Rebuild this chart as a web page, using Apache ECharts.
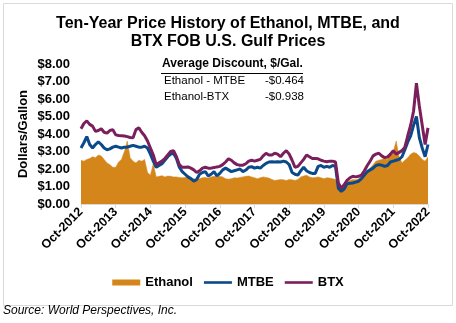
<!DOCTYPE html>
<html>
<head>
<meta charset="utf-8">
<script src="https://cdn.jsdelivr.net/npm/echarts@6/dist/echarts.min.js"></script>
<style>html,body{margin:0;padding:0;background:#fff}#c{width:456px;height:323px}</style>
</head>
<body>
<div id="c"></div>
<script>
// Monthly observations, Oct-2012 .. Oct-2022
var tickLabels = ['Oct-2012','Oct-2013','Oct-2014','Oct-2015','Oct-2016','Oct-2017','Oct-2018','Oct-2019','Oct-2020','Oct-2021','Oct-2022'];
var monthNames = ['Oct','Nov','Dec','Jan','Feb','Mar','Apr','May','Jun','Jul','Aug','Sep'];
var ethanol = [
 2.50,2.45,2.55,2.60,2.70,2.65,2.80,2.75,2.55,2.35,2.25,2.10,
 2.10,2.40,2.55,3.00,3.60,2.65,2.45,2.35,2.50,2.45,2.55,1.80,
 1.65,2.30,1.55,1.58,1.62,1.55,1.60,1.58,1.55,1.55,1.52,1.50,
 1.52,1.55,1.50,1.45,1.40,1.45,1.50,1.52,1.48,1.55,1.58,1.55,
 1.58,1.55,1.45,1.42,1.45,1.50,1.48,1.52,1.55,1.58,1.60,1.55,
 1.50,1.45,1.50,1.55,1.52,1.48,1.40,1.35,1.37,1.40,1.38,1.35,
 1.40,1.38,1.35,1.40,1.55,1.60,1.65,1.55,1.50,1.52,1.55,1.50,
 1.45,1.50,1.48,1.45,1.40,1.10,0.80,1.05,1.25,1.35,1.40,1.38,
 1.45,1.55,1.65,1.85,2.05,2.25,2.45,2.50,2.55,2.60,2.55,2.85,
 3.00,3.60,2.70,2.35,2.50,2.65,2.85,2.95,2.90,2.75,2.55,2.45,
 2.70];
var mtbe = [
 3.20,3.50,3.85,3.40,3.20,3.40,3.55,3.40,3.20,3.10,3.15,3.25,
 3.30,3.25,3.20,3.25,3.25,3.30,3.35,3.30,3.25,3.25,3.30,3.20,
 2.85,2.45,2.10,2.20,2.30,2.50,2.70,2.85,2.90,2.60,2.10,1.85,
 1.70,1.55,1.45,1.30,1.40,1.70,1.80,1.85,1.60,1.70,1.85,1.60,
 1.75,1.95,2.05,1.95,1.85,1.90,1.95,2.00,1.85,1.94,2.10,2.13,
 2.05,2.10,2.05,2.20,2.32,2.40,2.42,2.40,2.42,2.40,2.45,2.40,
 2.25,1.80,1.70,1.65,1.90,2.10,1.90,1.80,1.75,1.75,2.15,2.20,
 2.10,2.15,2.10,2.20,2.15,0.90,0.72,0.85,1.15,1.18,1.20,1.25,
 1.30,1.45,1.65,1.85,1.95,2.05,2.20,2.25,2.22,2.15,2.20,2.40,
 2.45,2.50,2.55,2.70,3.10,3.55,3.90,4.50,5.00,3.80,3.20,2.70,
 3.40];
var btx = [
 4.30,4.60,4.75,4.55,4.45,4.15,4.20,4.30,4.10,4.05,4.20,4.25,
 3.95,3.92,3.90,3.88,3.85,3.80,3.78,4.25,4.35,4.10,3.90,3.60,
 3.20,2.80,2.25,2.35,2.45,2.60,2.80,3.00,3.05,2.70,2.25,2.10,
 2.10,2.12,2.05,1.95,1.80,1.90,2.05,2.10,2.05,2.05,2.08,2.12,
 2.15,2.25,2.40,2.58,2.50,2.35,2.25,2.22,2.22,2.30,2.45,2.50,
 2.45,2.50,2.55,2.75,2.90,2.80,2.80,2.90,2.85,2.70,2.90,3.05,
 2.85,2.50,2.10,2.15,2.35,2.55,2.80,2.70,2.60,2.60,2.58,2.50,
 2.45,2.42,2.45,2.45,2.40,1.20,0.90,1.10,1.35,1.50,1.58,1.55,
 1.58,1.65,1.90,2.20,2.45,2.75,2.85,2.90,2.75,2.65,2.68,2.85,
 3.05,2.85,2.95,3.05,3.25,3.90,4.50,5.30,6.90,5.60,4.50,3.40,
 4.35];
var discountRows = [['Ethanol - MTBE','-$0.464'],['Ethanol-BTX','-$0.938']];

var categories = [];
for (var i = 0; i < ethanol.length; i++) {
  categories.push(monthNames[i % 12] + '-' + (2012 + Math.floor((i + 9) / 12)));
}

var C_ETH = '#D4861B', C_MTBE = '#0B4A8A', C_BTX = '#7A1F5C';
var LINE_ICON = 'path://M0,0 M0,1.7 L28,1.7 L28,4.3 L0,4.3 Z M28,6';
var chart = echarts.init(document.getElementById('c'));
var tableFont = '"Liberation Sans", Arial, sans-serif';
chart.setOption({
  animation: false,
  backgroundColor: '#fff',
  title: {
    text: 'Ten-Year Price History of Ethanol, MTBE, and\nBTX FOB U.S. Gulf Prices',
    left: 'center', top: 10,
    textStyle: {fontFamily: 'Arial, "Liberation Sans"', fontSize: 16, fontWeight: 'bold', color: '#000', lineHeight: 18}
  },
  grid: {left: 81, top: 64, width: 347, height: 140, containLabel: false},
  xAxis: {
    type: 'category', data: categories, boundaryGap: false,
    axisLine: {lineStyle: {color: '#D9D9D9', width: 1}},
    axisTick: {show: true, interval: 11, length: 4, lineStyle: {color: '#D9D9D9'}},
    axisLabel: {
      interval: 11, rotate: 45, margin: 6,
      fontFamily: 'Arial, "Liberation Sans"', fontSize: 12.5, fontWeight: 'bold', color: '#000',
      formatter: function (v, idx) { return tickLabels[idx / 12]; }
    },
    splitLine: {show: false}
  },
  yAxis: {
    type: 'value', min: 0, max: 8, interval: 1,
    name: 'Dollars/Gallon', nameLocation: 'middle', nameRotate: 90, nameGap: 51,
    nameMoveOverlap: false,
    nameTextStyle: {fontFamily: 'Arial, "Liberation Sans"', fontSize: 13, fontWeight: 'bold', color: '#000'},
    axisLine: {show: false}, axisTick: {show: false}, splitLine: {show: false},
    axisLabel: {
      margin: 11, fontFamily: 'Arial, "Liberation Sans"', fontSize: 13, fontWeight: 'bold', color: '#000',
      formatter: function (v) { return '$' + v.toFixed(2); }
    }
  },
  legend: {
    top: 276, left: 'center', itemWidth: 28, itemHeight: 6, itemGap: 11, padding: 0,
    textStyle: {fontFamily: 'Arial, "Liberation Sans"', fontSize: 13, fontWeight: 'bold', color: '#000'},
    data: [{name: 'Ethanol', icon: 'rect'}, {name: 'MTBE', icon: LINE_ICON}, {name: 'BTX', icon: LINE_ICON}]
  },
  series: [
    {name: 'Ethanol', type: 'line', data: ethanol, symbol: 'none', color: C_ETH,
     lineStyle: {width: 0.5, color: C_ETH}, areaStyle: {color: C_ETH, opacity: 1}},
    {name: 'MTBE', type: 'line', data: mtbe, symbol: 'none', color: C_MTBE,
     lineStyle: {width: 3, color: C_MTBE}},
    {name: 'BTX', type: 'line', data: btx, symbol: 'none', color: C_BTX,
     lineStyle: {width: 3, color: C_BTX}}
  ],
  graphic: [
    {type: 'rect', left: 1, top: 1, shape: {width: 449, height: 302}, style: {fill: 'none', stroke: '#D9D9D9', lineWidth: 1}, z: -1},
    {type: 'text', left: 162, top: 58, style: {text: 'Average Discount, $/Gal.', font: 'bold 12px ' + tableFont, fill: '#000'}},
    {type: 'line', shape: {x1: 161, y1: 73.5, x2: 303, y2: 73.5}, style: {stroke: '#000', lineWidth: 1}},
    {type: 'text', left: 164, top: 75, style: {text: discountRows[0][0], font: '11.5px ' + tableFont, fill: '#000'}},
    {type: 'text', left: 265, top: 75, style: {text: discountRows[0][1], font: '11.5px ' + tableFont, fill: '#000'}},
    {type: 'text', left: 164, top: 91, style: {text: discountRows[1][0], font: '11.5px ' + tableFont, fill: '#000'}},
    {type: 'text', left: 265, top: 91, style: {text: discountRows[1][1], font: '11.5px ' + tableFont, fill: '#000'}},
    {type: 'text', left: 3, top: 305, style: {text: 'Source: World Perspectives, Inc.', font: 'italic 12px Arial, "Liberation Sans"', fill: '#000'}}
  ]
});
</script>
</body>
</html>
